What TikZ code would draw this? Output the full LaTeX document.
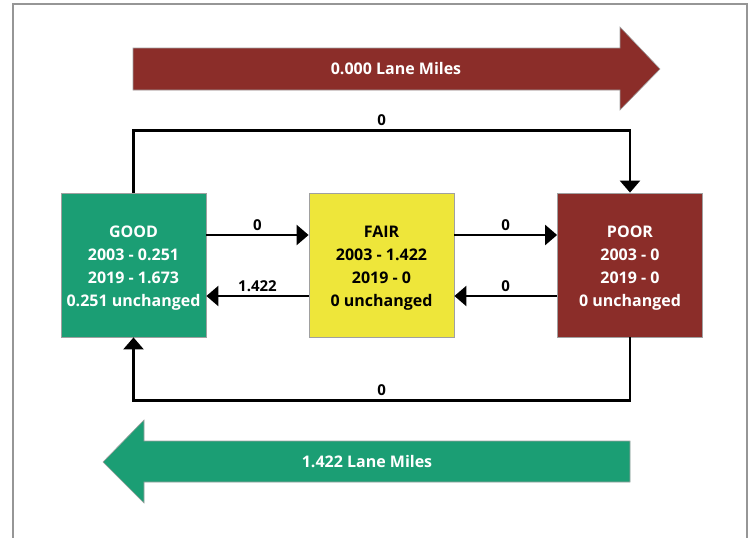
\documentclass[tikz,border=0pt]{standalone}
\usepackage{fontspec}
\setmainfont{Open Sans}
\usepackage{xcolor}
\usepackage{tikz}
\usetikzlibrary{positioning,arrows.meta,calc}
\definecolor{goodgreen}{RGB}{27,158,116}
\definecolor{fairyellow}{RGB}{238,230,58}
\definecolor{poorred}{RGB}{139,45,41}
\definecolor{edgegray}{RGB}{160,160,160}
\definecolor{framegray}{RGB}{150,150,150}
\newcommand{\topgap}{\rule{0pt}{18pt}}
\tikzset{
  state/.style={rectangle, draw=edgegray, line width=0.8pt, minimum width=145pt,
                minimum height=144pt, inner sep=0pt, align=center,
                font=\fontsize{16}{23}\selectfont\bfseries},
  goodbox/.style={state, fill=goodgreen, text=white},
  fairbox/.style={state, fill=fairyellow, text=black},
  poorbox/.style={state, fill=poorred, text=white},
  flow/.style={-{Triangle[length=12pt,width=20pt]}, line width=2.4pt, black},
  lbl/.style={font=\fontsize{15}{17}\selectfont\bfseries, inner sep=3.5pt},
  bigarrow/.style={draw=edgegray, line width=0.6pt},
  arrowtxt/.style={font=\fontsize{16}{18}\selectfont\bfseries, text=white}
}

\begin{document}
\begin{tikzpicture}[x=1pt, y=-1pt]
\useasboundingbox (0,0) rectangle (755,538);
% frame
\draw[framegray, line width=2pt] (13,538) -- (13,4) -- (747,4) -- (747,538);

% net movement arrows
\fill[poorred, bigarrow] (133,48) -- (620,48) -- (620,27) -- (660,69)
  -- (620,110) -- (620,90) -- (133,90) -- cycle;
\node[arrowtxt] (upname) at (396,69) {0.000 Lane Miles};
\fill[goodgreen, bigarrow] (630,441) -- (144,441) -- (144,420) -- (103,462)
  -- (144,503) -- (144,482) -- (630,482) -- cycle;
\node[arrowtxt] (downname) at (367,462) {1.422 Lane Miles};

% states
\node[goodbox] (good) at (133.5,265) {\topgap GOOD\\2003 - 0.251\\2019 - 1.673\\0.251 unchanged};
\node[fairbox] (fair) at (381.5,265) {\topgap FAIR\\2003 - 1.422\\2019 - 0\\0 unchanged};
\node[poorbox] (poor) at (630,265) {\topgap POOR\\2003 - 0\\2019 - 0\\0 unchanged};

% transitions
\draw[flow] ([yshift=30pt]good.east) -- ([yshift=30pt]fair.west) node[midway, above, lbl] {0};
\draw[flow] ([yshift=-31pt]fair.west) -- ([yshift=-31pt]good.east) node[midway, above, lbl] {1.422};
\draw[flow] ([yshift=30pt]fair.east) -- ([yshift=30pt]poor.west) node[midway, above, lbl] {0};
\draw[flow] ([yshift=-31pt]poor.west) -- ([yshift=-31pt]fair.east) node[midway, above, lbl] {0};
\draw[flow] (good.north) |- ([yshift=62pt]poor.north) node[pos=0.75, above, lbl] {0} -- (poor.north);
\draw[flow] (poor.south) |- ([yshift=-63pt]good.south) node[pos=0.75, above, lbl] {0} -- (good.south);
\end{tikzpicture}
\end{document}
